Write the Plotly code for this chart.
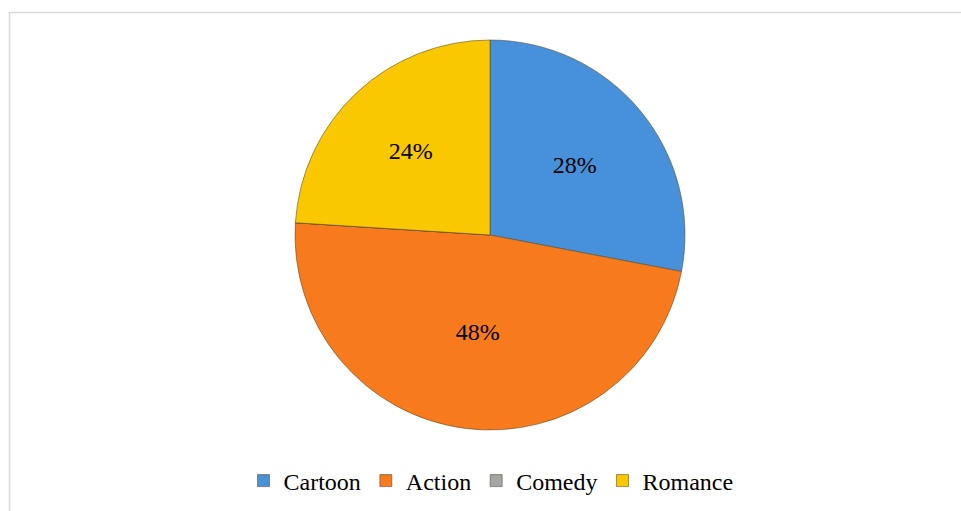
import plotly.graph_objects as go

categories = ["Cartoon", "Action", "Comedy", "Romance"]
values = [28, 48, 0, 24]
colors = ["#4691da", "#f77b1d", "#a5a5a5", "#f9c800"]

labels_text = [f"{v}%" if v else "" for v in values]

W, H = 961, 511
cx, cy, r = 490, 235, 195

fig = go.Figure(go.Pie(
    labels=categories,
    values=values,
    text=labels_text,
    textinfo="text",
    textposition="inside",
    insidetextorientation="horizontal",
    sort=False,
    direction="clockwise",
    rotation=0,
    marker=dict(colors=colors, line=dict(color="rgba(90,70,40,0.55)", width=1)),
    textfont=dict(family="Liberation Serif", size=24, color="#000000"),
    domain=dict(x=[(cx - r) / W, (cx + r) / W], y=[1 - (cy + r) / H, 1 - (cy - r) / H]),
    hoverinfo="label+percent",
))

fig.update_layout(
    width=W, height=H,
    margin=dict(l=0, r=0, t=0, b=0),
    paper_bgcolor="white",
    plot_bgcolor="white",
    showlegend=True,
    legend=dict(
        orientation="h",
        x=491 / W, xanchor="center",
        y=1 - 481 / H, yanchor="middle",
        font=dict(family="Liberation Serif", size=24, color="#000000"),
        traceorder="normal",
    ),
    shapes=[dict(
        type="rect", xref="paper", yref="paper",
        x0=9.5 / W, x1=1.01, y0=-0.01, y1=1 - 12.5 / H,
        line=dict(color="#d9d9d9", width=1.5),
    )],
)

fig.write_html("out.html")
